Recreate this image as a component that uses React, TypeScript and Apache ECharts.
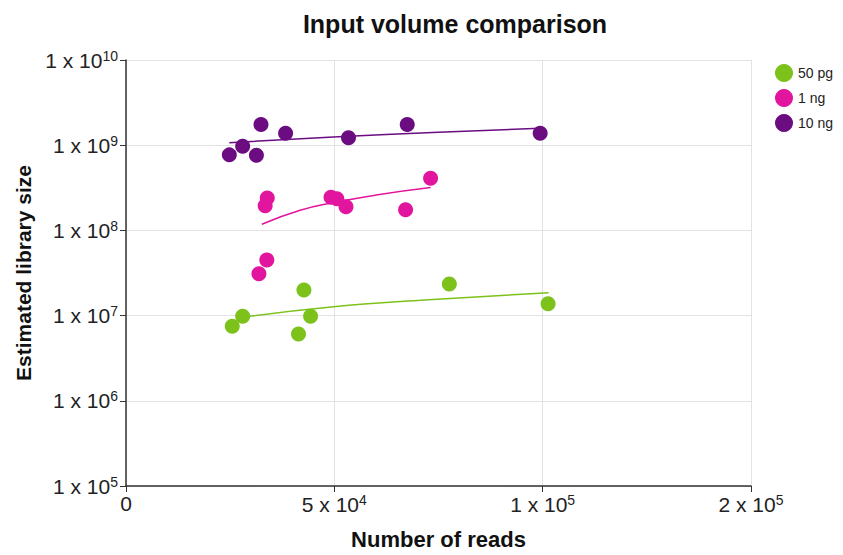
import React, { useEffect, useRef } from "react";
import * as echarts from "echarts";

const seriesNames = ["50 pg", "1 ng", "10 ng"];
const seriesColors = ["#7cc21b", "#e2169e", "#6b0c80"];

// [reads, library size]
const points50pg: [number, number][] = [
  [25500, 7.5e6], [28000, 9.8e6], [41400, 6.1e6], [42700, 2.0e7],
  [44300, 9.8e6], [77600, 2.35e7], [101300, 1.38e7],
];
const points1ng: [number, number][] = [
  [31900, 3.1e7], [33800, 4.5e7], [33400, 1.95e8], [33900, 2.4e8],
  [49200, 2.45e8], [50600, 2.35e8], [52800, 1.9e8], [67100, 1.75e8], [73100, 4.1e8],
];
const points10ng: [number, number][] = [
  [24800, 7.7e8], [28000, 9.7e8], [31300, 7.6e8], [32400, 1.75e9],
  [38300, 1.38e9], [53400, 1.22e9], [67500, 1.75e9], [99400, 1.38e9],
];

// trend lines
const trend50pg: [number, number][] = [
  [29000, 9.7e6], [49800, 1.27e7], [70600, 1.51e7], [101400, 1.86e7],
];
const trend1ng: [number, number][] = [
  [32600, 1.18e8], [41800, 1.72e8], [49800, 2.12e8], [60000, 2.6e8], [73100, 3.18e8],
];
const trend10ng: [number, number][] = [
  [24800, 1.07e9], [49800, 1.25e9], [75000, 1.42e9], [99400, 1.58e9],
];

const xTickValues = [0, 50000, 100000, 150000];
const xTickLabels = ["0", "5 x 10|4", "1 x 10|5", "2 x 10|5"];
const yTickExponents = [5, 6, 7, 8, 9, 10];

const FONT = "'Liberation Sans', Arial, sans-serif";

export default function App() {
  const ref = useRef<HTMLDivElement>(null);
  useEffect(() => {
    if (!ref.current) return;
    const chart = echarts.init(ref.current, undefined, { renderer: "svg" });
    const rich = {
      b: { fontSize: 21, fontFamily: FONT, color: "#222" },
      s: { fontSize: 14, fontFamily: FONT, color: "#222", padding: [0, 0, 9, 0] },
    };
    const scatter = [points50pg, points1ng, points10ng];
    const trends = [trend50pg, trend1ng, trend10ng];
    const series: any[] = [];
    trends.forEach((t, i) => {
      series.push({
        name: seriesNames[i] + " trend",
        type: "line",
        data: t,
        symbol: "none",
        smooth: true,
        lineStyle: { color: seriesColors[i], width: 1.5 },
        z: 2,
      });
    });
    scatter.forEach((p, i) => {
      series.push({
        name: seriesNames[i],
        type: "scatter",
        data: p,
        symbol: "circle",
        symbolSize: 15,
        itemStyle: { color: seriesColors[i], opacity: 1 },
        z: 3,
      });
    });
    chart.setOption({
      animation: false,
      backgroundColor: "#fff",
      title: {
        text: "Input volume comparison",
        left: 450,
        textAlign: "center",
        top: 6,
        textStyle: { fontSize: 25, fontWeight: "bold", fontFamily: FONT, color: "#111" },
      },
      legend: {
        data: seriesNames,
        orient: "vertical",
        left: 770,
        top: 59,
        itemWidth: 18,
        itemHeight: 18,
        itemGap: 7,
        icon: "circle",
        textStyle: { fontSize: 14, fontFamily: FONT, color: "#222" },
      },
      grid: { left: 126, right: 92, top: 60, bottom: 65 },
      xAxis: {
        type: "value",
        min: 0,
        max: 150000,
        interval: 50000,
        name: "Number of reads",
        nameLocation: "middle",
        nameGap: 42,
        nameTextStyle: { fontSize: 22, fontWeight: "bold", fontFamily: FONT, color: "#111" },
        axisLine: { lineStyle: { color: "#333", width: 1.5 } },
        axisTick: { show: true, length: 6, lineStyle: { color: "#333" } },
        splitLine: { show: true, lineStyle: { color: "#e3e3e3", width: 1 } },
        axisLabel: {
          margin: 7,
          formatter: (v: number) => {
            const idx = xTickValues.indexOf(v);
            if (idx < 0) return "";
            const parts = xTickLabels[idx].split("|");
            return parts.length > 1 ? `{b|${parts[0]}}{s|${parts[1]}}` : `{b|${parts[0]}}`;
          },
          rich,
        },
      },
      yAxis: {
        type: "log",
        logBase: 10,
        min: 1e5,
        max: 1e10,
        name: "Estimated library size",
        nameLocation: "middle",
        nameGap: 92,
        nameTextStyle: { fontSize: 21, fontWeight: "bold", fontFamily: FONT, color: "#111" },
        axisLine: { show: true, lineStyle: { color: "#333", width: 1.5 } },
        axisTick: { show: true, length: 6, lineStyle: { color: "#333" } },
        splitLine: { show: true, lineStyle: { color: "#e3e3e3", width: 1 } },
        axisLabel: {
          margin: 8,
          formatter: (v: number) => {
            const e = Math.round(Math.log10(v));
            if (!yTickExponents.includes(e)) return "";
            return `{b|1 x 10}{s|${e}}`;
          },
          rich,
        },
      },
      series,
    });
    return () => chart.dispose();
  }, []);
  return (
    <div
      ref={ref}
      style={{ position: "absolute", left: 0, top: 0, width: 843, height: 555 }}
    />
  );
}
